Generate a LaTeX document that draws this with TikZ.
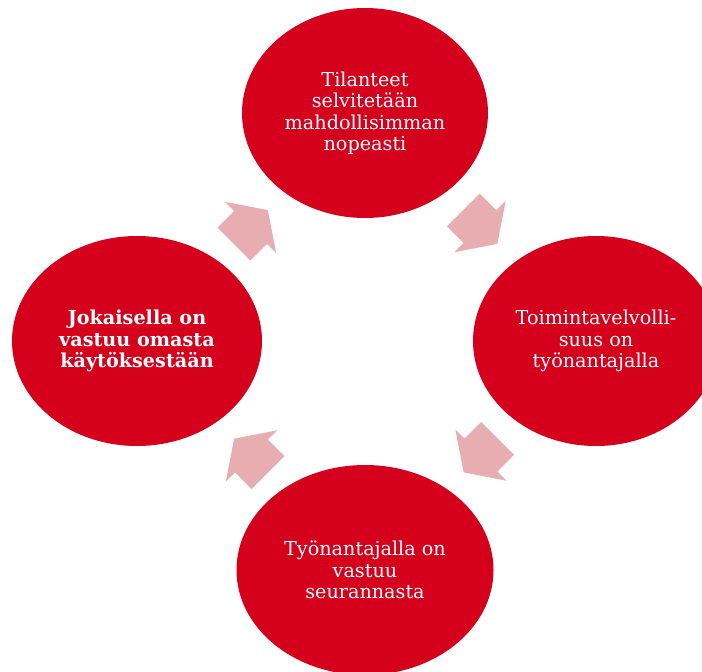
\documentclass[tikz,border=0pt]{standalone}
\usepackage{fontspec}
\setmainfont{DejaVu Serif}
\usetikzlibrary{shapes.geometric,shapes.arrows,positioning,calc}
\definecolor{cyclered}{RGB}{213,0,28}
\definecolor{cyclepink}{RGB}{232,173,176}
\tikzset{>=latex}

\begin{document}
\begin{tikzpicture}[x=1pt, y=1pt, node distance=228pt and 228pt, on grid,
    every node/.style={text=white, align=center, font=\fontsize{19.2}{21.5}\selectfont},
    bubble/.style={ellipse, fill=cyclered, minimum width=248pt, minimum height=210pt, inner sep=0pt},
    cyclearrow/.style={single arrow, fill=cyclepink, inner sep=0pt, inner ysep=23pt,
        minimum height=48pt, single arrow head extend=13pt, single arrow tip angle=112}]
    \useasboundingbox (0,0) rectangle (702,-672);
    \clip (0,0) rectangle (702,-672);

    % Nodes
    \node[bubble, minimum width=246pt] (SELVITYS) at (365,-113) {Tilanteet\\selvitetään\\mahdollisimman\\nopeasti};
    \node[bubble, minimum width=246pt, xshift=3pt] (VELVOLLISUUS) [below right=of SELVITYS] {Toimintavelvolli-\\suus on\\työnantajalla};
    \node[bubble, minimum width=257pt] (SEURANTA) [below left=of VELVOLLISUUS, xshift=-3pt, yshift=-1pt] {Työnantajalla on\\vastuu\\seurannasta};
    \node[bubble, minimum width=250pt, font=\fontsize{19.2}{21.5}\selectfont\bfseries] (VASTUU) at (137,-341) {Jokaisella on\\vastuu omasta\\käytöksestään};

    % Arrows
    \node[cyclearrow, rotate=45] (A1) at ($(VASTUU)!0.5!(SELVITYS)!8pt!(VASTUU)$) {};
    \node[cyclearrow, rotate=-45] (A2) at ($(SELVITYS)!0.5!(VELVOLLISUUS)!8pt!(SELVITYS)$) {};
    \node[cyclearrow, rotate=-135] (A3) at ($(VELVOLLISUUS)!0.5!(SEURANTA)!8pt!(VELVOLLISUUS)$) {};
    \node[cyclearrow, rotate=135] (A4) at ($(SEURANTA)!0.5!(VASTUU)!8pt!(SEURANTA)$) {};
\end{tikzpicture}
\end{document}
